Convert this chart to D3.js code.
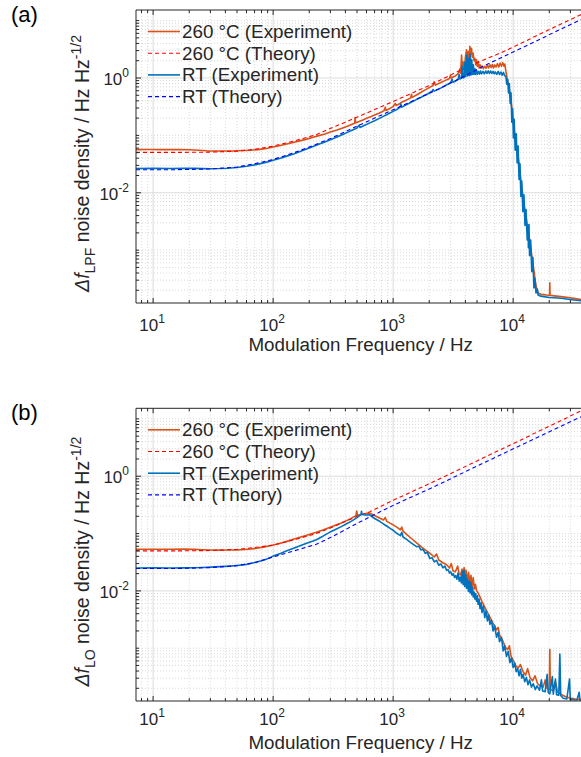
<!DOCTYPE html>
<html>
<head>
<meta charset="utf-8">
<script src="https://cdn.jsdelivr.net/npm/d3@7"></script>
<style>
  body { margin: 0; background: #fff; }
  svg { font-family: "Liberation Sans", Arial, Helvetica, sans-serif; }
</style>
</head>
<body>
<div id="chart"></div>
<script>
// tick values and legend text
var xTicks = [10, 100, 1000, 10000];
var xTickExp = ["1", "2", "3", "4"];
var yTicks = [1e-2, 1];
var yTickExp = ["-2", "0"];
var legendNames = ["260 \u00B0C (Experiment)", "260 \u00B0C (Theory)", "RT (Experiment)", "RT (Theory)"];

// panel (a): LPF, values as [Hz, Hz/sqrt(Hz)]
var thyA_hot = [[7.2,0.0505],[15,0.0505],[30,0.051],[50,0.053],[70,0.057],[100,0.065],[150,0.08],[229,0.103],[295,0.13],[400,0.17],[562,0.23],[1000,0.39],[2000,0.74],[3470,1.3],[5000,1.85],[7740,2.7],[10000,3.45],[17800,6.2],[40000,13.8]];
var thyA_rt = [[7.2,0.0252],[15,0.0252],[30,0.026],[50,0.028],[70,0.032],[100,0.038],[150,0.05],[229,0.07],[300,0.088],[500,0.145],[1000,0.28],[2000,0.54],[3500,0.95],[5620,1.6],[10000,2.85],[12900,3.65],[22900,6.5],[40000,11.3]];
var expA_hot = [[7.2,0.0565],[9,0.0566],[12,0.0564],[16,0.0565],[20,0.0562],[24,0.0552],[28,0.0538],[34,0.0533],[40,0.0535],[48,0.0538],[56,0.0545],[65,0.0552],[75,0.0565],[88,0.059],[100,0.0625],[115,0.0665],[130,0.071],[150,0.076],[170,0.081],[190,0.086],[215,0.093],[240,0.099],[270,0.106],[300,0.114],[340,0.124],[380,0.135],[420,0.146],[460,0.158],[478,0.163],[482,0.205],[486,0.165],[520,0.174],[560,0.186],[600,0.198],[650,0.212],[700,0.226],[760,0.243],[800,0.256],[840,0.27],[860,0.31],[870,0.272],[920,0.287],[980,0.31],[1000,0.318],[1040,0.36],[1060,0.33],[1140,0.36],[1200,0.385],[1300,0.415],[1400,0.45],[1420,0.52],[1440,0.46],[1550,0.5],[1700,0.56],[1850,0.62],[2000,0.68],[2150,0.74],[2200,0.86],[2250,0.75],[2450,0.82],[2700,0.9],[2950,0.98],[3000,1.12],[3050,1.0],[3250,1.07],[3400,1.14],[3500,1.2],[3600,1.45],[3650,1.22],[3720,2.5],[3780,1.3],[3850,1.9],[3920,1.35],[4000,2.3],[4090,3.1],[4150,2.2],[4220,2.9],[4300,2.1],[4360,3.55],[4420,2.6],[4500,3.3],[4560,2.3],[4640,2.72],[4720,2.0],[4800,2.2],[4880,1.7],[4950,2.08],[5020,1.6],[5110,1.94],[5200,1.5],[5300,1.7],[5400,1.48],[5500,1.62],[5650,1.45],[5800,1.6],[5950,1.48],[6100,1.66],[6250,1.5],[6400,1.7],[6550,1.52],[6700,1.72],[6850,1.5],[7000,1.68],[7200,1.55],[7400,1.78],[7600,1.55],[7800,1.82],[8000,1.6],[8200,1.85],[8400,1.6],[8530,1.75],[8700,1.3],[8900,1.0],[9100,0.8],[9300,0.62],[9500,0.45],[9700,0.33],[9900,0.22],[10100,0.15],[10300,0.1],[10600,0.07],[11000,0.042],[11300,0.028],[11600,0.016],[11900,0.011],[12300,0.0065],[12700,0.0042],[13100,0.0028],[13500,0.0019],[14000,0.0011],[14500,0.00065],[15000,0.0004],[15400,0.00026],[15800,0.0002],[16300,0.000178],[17000,0.00017],[18000,0.000168],[19000,0.000165],[20100,0.000163],[20200,0.00027],[20300,0.000163],[22000,0.00016],[25000,0.000155],[30000,0.000148],[35000,0.00014],[40000,0.000135]];
var expA_rt = [[7.2,0.0265],[10,0.0266],[14,0.0265],[18,0.0266],[22,0.0266],[26,0.0263],[30,0.0262],[36,0.0264],[42,0.0268],[50,0.0276],[60,0.029],[70,0.0306],[80,0.0325],[90,0.0345],[100,0.0368],[115,0.04],[130,0.0435],[150,0.048],[170,0.053],[190,0.058],[215,0.064],[240,0.07],[270,0.077],[300,0.084],[340,0.094],[380,0.104],[420,0.114],[460,0.124],[500,0.134],[520,0.15],[530,0.137],[580,0.15],[640,0.165],[700,0.18],[760,0.196],[820,0.212],[880,0.228],[940,0.245],[1000,0.262],[1080,0.285],[1140,0.31],[1160,0.35],[1180,0.31],[1260,0.335],[1350,0.36],[1450,0.39],[1560,0.42],[1680,0.45],[1800,0.49],[1950,0.53],[2100,0.58],[2150,0.63],[2200,0.59],[2400,0.64],[2600,0.7],[2800,0.76],[3000,0.82],[3100,0.95],[3150,0.84],[3300,0.88],[3470,0.94],[3550,1.15],[3600,0.96],[3700,0.99],[3760,1.6],[3820,1.0],[3900,1.02],[3960,1.9],[4030,1.05],[4100,2.5],[4170,1.08],[4240,2.2],[4310,1.1],[4380,2.6],[4450,1.12],[4520,2.1],[4590,1.15],[4660,1.7],[4730,1.15],[4800,1.45],[4870,1.15],[4950,1.35],[5050,1.16],[5150,1.3],[5250,1.17],[5350,1.32],[5450,1.18],[5600,1.3],[5750,1.18],[5900,1.32],[6050,1.2],[6200,1.33],[6350,1.2],[6500,1.32],[6650,1.2],[6800,1.3],[6950,1.18],[7100,1.28],[7300,1.16],[7500,1.3],[7700,1.15],[7900,1.27],[8100,1.12],[8300,1.25],[8500,1.1],[8700,1.05],[8850,0.78],[9000,0.95],[9150,0.55],[9300,0.8],[9450,0.36],[9600,0.55],[9750,0.17],[9900,0.29],[10050,0.09],[10200,0.19],[10400,0.055],[10600,0.107],[10800,0.033],[11000,0.065],[11200,0.017],[11400,0.032],[11600,0.0086],[11800,0.016],[12050,0.0047],[12300,0.0092],[12550,0.0027],[12800,0.0051],[13100,0.0015],[13300,0.0027],[13400,0.0011],[13550,0.0028],[13700,0.0008],[14000,0.0015],[14300,0.00042],[14600,0.00075],[14900,0.00022],[15200,0.00032],[15500,0.00018],[15900,0.00021],[16150,0.000165],[17000,0.000158],[18000,0.000155],[20000,0.00015],[22000,0.000148],[25000,0.000145],[30000,0.000138],[35000,0.000133],[40000,0.00013]];

// panel (b): LO
var thyB_hot = [[7.2,0.0498],[15,0.0498],[30,0.0505],[50,0.053],[70,0.057],[100,0.0626],[150,0.078],[229,0.1],[300,0.125],[500,0.2],[640,0.24],[1000,0.38],[2000,0.74],[5000,1.85],[10000,3.7],[40000,15.0]];
var thyB_rt = [[7.2,0.0245],[15,0.0245],[30,0.0255],[50,0.0275],[70,0.031],[100,0.039],[150,0.05],[229,0.065],[300,0.085],[500,0.15],[640,0.195],[1000,0.31],[2000,0.6],[5000,1.5],[10000,3.0],[40000,11.8]];
var expB_hot = [[7.2,0.0532],[10,0.0533],[14,0.0532],[18,0.0534],[22,0.053],[26,0.0522],[30,0.0516],[36,0.0513],[42,0.0515],[50,0.052],[58,0.0528],[66,0.054],[75,0.0558],[85,0.0585],[100,0.063],[115,0.068],[130,0.073],[150,0.08],[170,0.087],[190,0.093],[215,0.101],[229,0.105],[260,0.115],[295,0.128],[330,0.14],[370,0.153],[409,0.168],[440,0.18],[470,0.195],[490,0.205],[497,0.248],[505,0.208],[540,0.215],[580,0.222],[620,0.229],[650,0.225],[680,0.212],[720,0.2],[777,0.185],[830,0.172],[860,0.19],[880,0.165],[940,0.152],[1000,0.142],[1080,0.128],[1150,0.116],[1180,0.13],[1210,0.11],[1294,0.097],[1420,0.082],[1567,0.069],[1700,0.06],[1850,0.052],[2020,0.0455],[2200,0.039],[2300,0.044],[2400,0.0345],[2600,0.031],[2790,0.0285],[2950,0.025],[3050,0.03],[3150,0.0225],[3300,0.0215],[3450,0.027],[3550,0.0195],[3650,0.019],[3750,0.024],[3830,0.018],[3900,0.0255],[3980,0.016],[4050,0.023],[4150,0.0145],[4250,0.021],[4360,0.0135],[4450,0.0187],[4550,0.012],[4650,0.017],[4750,0.0108],[4850,0.013],[4950,0.0102],[5100,0.0092],[5300,0.0078],[5500,0.0065],[5800,0.0052],[6100,0.0042],[6400,0.0035],[6800,0.0027],[7280,0.0021],[7500,0.0023],[7700,0.0017],[8260,0.0013],[8600,0.00105],[9000,0.00095],[9300,0.0011],[9600,0.00072],[10000,0.00062],[10500,0.0005],[11000,0.00045],[11500,0.00052],[12100,0.00039],[12700,0.00034],[13200,0.00044],[13800,0.00031],[14500,0.00027],[15200,0.00033],[16000,0.00024],[16800,0.00022],[17800,0.00021],[18500,0.00028],[19200,0.0002],[20000,0.00019],[20200,0.00095],[20400,0.00019],[21500,0.00018],[22500,0.00026],[23500,0.00017],[25000,0.000158],[26100,0.00015],[28000,0.00014],[30000,0.000135],[33000,0.00013],[36500,0.000128],[40000,0.000126]];
var expB_rt = [[7.2,0.0251],[10,0.0252],[14,0.0251],[18,0.0252],[22,0.0253],[26,0.0256],[30,0.026],[36,0.0265],[43.6,0.027],[50,0.0278],[60,0.029],[70,0.0312],[80,0.0335],[90,0.0365],[100,0.0404],[115,0.045],[130,0.05],[150,0.056],[170,0.062],[190,0.068],[215,0.074],[229,0.078],[260,0.09],[295,0.105],[330,0.118],[370,0.132],[409,0.148],[450,0.165],[500,0.19],[540,0.215],[545,0.245],[550,0.215],[590,0.21],[640,0.212],[680,0.19],[720,0.178],[777,0.162],[830,0.147],[890,0.134],[950,0.122],[1000,0.114],[1080,0.1],[1150,0.092],[1180,0.105],[1210,0.087],[1294,0.079],[1420,0.068],[1567,0.059],[1640,0.06],[1700,0.052],[1780,0.053],[1850,0.045],[1930,0.047],[2020,0.0368],[2110,0.038],[2200,0.032],[2300,0.034],[2400,0.028],[2500,0.0295],[2600,0.0252],[2700,0.027],[2790,0.0228],[2870,0.0235],[2950,0.0205],[3020,0.0215],[3100,0.0188],[3170,0.02],[3250,0.0172],[3320,0.0185],[3400,0.016],[3470,0.0205],[3550,0.0148],[3620,0.0175],[3700,0.0138],[3760,0.022],[3830,0.0128],[3890,0.0228],[3960,0.0118],[4030,0.019],[4100,0.011],[4170,0.016],[4240,0.0098],[4310,0.015],[4380,0.0092],[4450,0.014],[4520,0.0085],[4590,0.0115],[4660,0.0078],[4730,0.0095],[4800,0.0072],[4880,0.009],[4950,0.0066],[5030,0.0082],[5100,0.0058],[5200,0.0072],[5300,0.0049],[5400,0.0062],[5500,0.0042],[5650,0.0055],[5800,0.0034],[5950,0.0045],[6100,0.003],[6250,0.0038],[6400,0.0026],[6600,0.0031],[6800,0.002],[7000,0.0025],[7280,0.00155],[7500,0.0019],[7700,0.0013],[8000,0.00155],[8260,0.0009],[8500,0.0011],[8800,0.00072],[9100,0.00088],[9400,0.00056],[9700,0.00068],[10000,0.00046],[10300,0.00055],[10600,0.00039],[10900,0.00044],[11200,0.00033],[11500,0.00043],[11800,0.0003],[12100,0.00035],[12500,0.00026],[12900,0.00031],[13300,0.00023],[13700,0.00028],[14200,0.00021],[14700,0.00024],[15300,0.00019],[15800,0.00022],[16600,0.000185],[17200,0.00028],[17600,0.00018],[18500,0.000175],[19200,0.00035],[19600,0.00017],[20200,0.00016],[21200,0.00032],[21600,0.000158],[22500,0.00029],[23000,0.000155],[24000,0.000152],[24500,0.00079],[24900,0.00015],[26100,0.000134],[28000,0.00013],[29500,0.00029],[29900,0.000128],[32000,0.000126],[34000,0.000125],[35500,0.00017],[36000,0.000124],[38000,0.000123],[40000,0.000122]];

var colors = ["#D95319", "#FF0000", "#0072BD", "#0000FF"];

var svg = d3.select("#chart").append("svg")
    .attr("width", 581)
    .attr("height", 757);

function drawPanel(opt) {
    var left = 136, right = 585.4;
    var top = opt.top, bottom = opt.bottom;

    var x = d3.scaleLog().domain([7.2, 40000]).range([left, right]);
    var y = d3.scaleLog().domain([1.2e-4, 15.3]).range([bottom, top]);

    var g = svg.append("g");

    g.append("clipPath").attr("id", "clip" + opt.id)
        .append("rect")
        .attr("x", left).attr("y", top)
        .attr("width", right - left).attr("height", bottom - top);

    // minor ticks 2..9 per decade
    var xMinor = [], yMinor = [];
    for (var e = 0; e <= 5; e++) {
        for (var m = 1; m <= 9; m++) {
            var v = m * Math.pow(10, e);
            if (v >= 7.2 && v <= 40000 && xTicks.indexOf(v) < 0) xMinor.push(v);
        }
    }
    for (var e = -4; e <= 1; e++) {
        for (var m = 1; m <= 9; m++) {
            var v = m * Math.pow(10, e);
            var major = yTicks.some(function(t) { return Math.abs(t - v) / v < 1e-9 });
            if (v >= 1.2e-4 && v <= 15.3 && !major) yMinor.push(v);
        }
    }

    // grid
    g.selectAll(".xminorgrid").data(xMinor).enter().append("line")
        .attr("x1", function(d) { return x(d) }).attr("x2", function(d) { return x(d) })
        .attr("y1", top).attr("y2", bottom)
        .attr("stroke", "#cfcfcf").attr("stroke-width", 0.8).attr("stroke-dasharray", "1,2");
    g.selectAll(".yminorgrid").data(yMinor).enter().append("line")
        .attr("x1", left).attr("x2", right)
        .attr("y1", function(d) { return y(d) }).attr("y2", function(d) { return y(d) })
        .attr("stroke", "#cfcfcf").attr("stroke-width", 0.8).attr("stroke-dasharray", "1,2");
    g.selectAll(".xgrid").data(xTicks).enter().append("line")
        .attr("x1", function(d) { return x(d) }).attr("x2", function(d) { return x(d) })
        .attr("y1", top).attr("y2", bottom)
        .attr("stroke", "#dcdcdc").attr("stroke-width", 1);
    g.selectAll(".ygrid").data(yTicks).enter().append("line")
        .attr("x1", left).attr("x2", right)
        .attr("y1", function(d) { return y(d) }).attr("y2", function(d) { return y(d) })
        .attr("stroke", "#dcdcdc").attr("stroke-width", 1);

    // data
    var line = d3.line()
        .x(function(d) { return x(d[0]) })
        .y(function(d) { return y(d[1]) });

    var series = [
        {data: opt.expHot, color: colors[0], dash: null, w: 1.6},
        {data: opt.thyHot, color: colors[1], dash: "4,3", w: 1.1},
        {data: opt.expRt, color: colors[2], dash: null, w: 1.6},
        {data: opt.thyRt, color: colors[3], dash: "4,3", w: 1.1}
    ];
    var dataG = g.append("g").attr("clip-path", "url(#clip" + opt.id + ")");
    series.forEach(function(s) {
        dataG.append("path")
            .datum(s.data)
            .attr("fill", "none")
            .attr("stroke", s.color)
            .attr("stroke-width", s.w)
            .attr("stroke-dasharray", s.dash)
            .attr("stroke-linejoin", "round")
            .attr("d", line);
    });

    // ticks (inside)
    var ax = g.append("g").attr("stroke", "#262626");
    xMinor.forEach(function(d) {
        ax.append("line").attr("x1", x(d)).attr("x2", x(d)).attr("y1", bottom).attr("y2", bottom - 3);
        ax.append("line").attr("x1", x(d)).attr("x2", x(d)).attr("y1", top).attr("y2", top + 3);
    });
    xTicks.forEach(function(d) {
        ax.append("line").attr("x1", x(d)).attr("x2", x(d)).attr("y1", bottom).attr("y2", bottom - 5);
        ax.append("line").attr("x1", x(d)).attr("x2", x(d)).attr("y1", top).attr("y2", top + 5);
    });
    yMinor.forEach(function(d) {
        ax.append("line").attr("x1", left).attr("x2", left + 3).attr("y1", y(d)).attr("y2", y(d));
    });
    yTicks.forEach(function(d) {
        ax.append("line").attr("x1", left).attr("x2", left + 5).attr("y1", y(d)).attr("y2", y(d));
    });
    ax.append("path")
        .attr("fill", "none")
        .attr("stroke-width", 1)
        .attr("d", "M" + right + "," + top + "H" + left + "V" + bottom + "H" + right);

    // tick labels
    xTicks.forEach(function(d, i) {
        var t = g.append("text")
            .attr("x", x(d) - 1).attr("y", bottom + opt.xLabelDy)
            .attr("text-anchor", "middle")
            .attr("font-size", 17).attr("fill", "#262626");
        t.append("tspan").text("10");
        t.append("tspan").attr("dy", -8).attr("font-size", 12).text(xTickExp[i]);
    });
    yTicks.forEach(function(d, i) {
        var t = g.append("text")
            .attr("x", 129).attr("y", y(d) + 7)
            .attr("text-anchor", "end")
            .attr("font-size", 17).attr("fill", "#262626");
        t.append("tspan").text("10");
        t.append("tspan").attr("dy", -8).attr("font-size", 12).text(yTickExp[i]);
    });

    // axis titles
    g.append("text")
        .attr("x", (left + right) / 2).attr("y", bottom + 48)
        .attr("text-anchor", "middle")
        .attr("font-size", 18.8).attr("fill", "#262626")
        .text("Modulation Frequency / Hz");

    var yl = g.append("text")
        .attr("transform", "translate(89," + ((top + bottom) / 2 + 7) + ") rotate(-90)")
        .attr("text-anchor", "middle")
        .attr("font-size", 19.5).attr("fill", "#262626");
    yl.append("tspan").attr("font-style", "italic").text("\u0394f");
    yl.append("tspan").attr("dy", 6).attr("font-size", 14).text(opt.sub);
    yl.append("tspan").attr("dy", -6).text(" noise density / Hz Hz");
    yl.append("tspan").attr("dy", -8).attr("font-size", 14).text("-1/2");

    // panel letter
    g.append("text")
        .attr("x", 11).attr("y", opt.letterY)
        .attr("font-size", 22).attr("fill", "#000")
        .text(opt.letter);

    // legend
    var leg = g.selectAll(".legend")
        .data(legendNames)
        .enter().append("g")
        .attr("transform", function(d, i) { return "translate(148," + (top + 21.5 + i * 21.7) + ")" });
    leg.append("line")
        .attr("x1", 0).attr("x2", 32)
        .attr("stroke", function(d, i) { return colors[i] })
        .attr("stroke-width", function(d, i) { return i % 2 ? 1.1 : 1.6 })
        .attr("stroke-dasharray", function(d, i) { return i % 2 ? "4,3" : null });
    leg.append("text")
        .attr("x", 34).attr("y", 6.5)
        .attr("font-size", 18.8).attr("fill", "#262626")
        .text(function(d) { return d });
}

drawPanel({id: "a", top: 10, bottom: 303, letter: "(a)", letterY: 22, sub: "LPF", xLabelDy: 28,
    expHot: expA_hot, thyHot: thyA_hot, expRt: expA_rt, thyRt: thyA_rt});
drawPanel({id: "b", top: 408.3, bottom: 701, letter: "(b)", letterY: 420, sub: "LO", xLabelDy: 24,
    expHot: expB_hot, thyHot: thyB_hot, expRt: expB_rt, thyRt: thyB_rt});
</script>
</body>
</html>
